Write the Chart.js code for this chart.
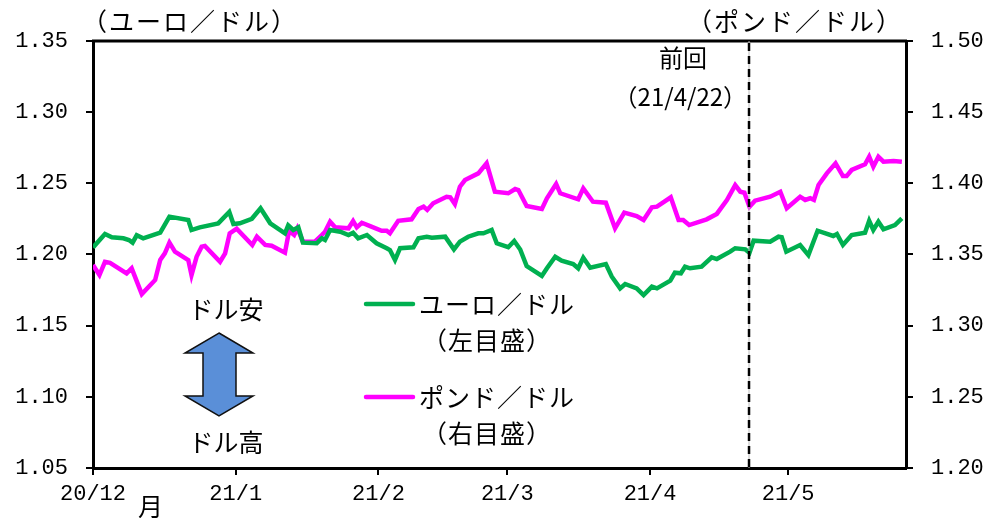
<!DOCTYPE html>
<html>
<head>
<meta charset="utf-8">
<script src="https://cdn.jsdelivr.net/npm/chart.js@4.4.1/dist/chart.umd.min.js"></script>
<style>
  html, body { margin: 0; padding: 0; background: #fff; }
</style>
</head>
<body>
<canvas id="fx" width="991" height="518"></canvas>
<script>
// x = days since 2020-12-01
const monthStarts = [0, 31, 62, 90, 121, 151];
const monthLabels = ["20/12", "21/1", "21/2", "21/3", "21/4", "21/5"];
const lastMeetingDay = 142.5; // 21/4/22

// euro / dollar (left scale)
const eurDays = [0, 2.6, 4.1, 6.6, 7.8, 8.6, 9.5, 10.9, 14.6, 16.6, 20.7, 21.4, 23.2, 27.2, 29.6, 30.5, 31.9, 34.5, 36.4, 38.5,
  41.7, 42.4, 43.5, 44.6, 45.6, 48.6, 49.7, 50.4, 51.5, 53.7, 55.5, 56.5, 57.6, 59.5, 61.6, 63.8, 64.5, 65.6, 66.7, 69.6,
  70.7, 72.5, 73.6, 76.5, 78.4, 79.7, 81.5, 83.7, 84.8, 86.6, 87.7, 90.2, 91.5, 92.8, 94.2, 97.5, 98.6, 100.4, 101.8, 104.3,
  105.4, 106.5, 108.0, 111.4, 112.7, 114.5, 115.6, 118.1, 119.6, 121.4, 122.5, 125.4, 126.4, 127.7, 128.6, 129.7, 132.2, 134.4, 135.5, 138.4,
  139.5, 141.7, 142.6, 143.5, 147.1, 148.9, 149.6, 150.6, 153.6, 155.4, 157.4, 160.8, 161.6, 162.9, 164.8, 167.7, 168.6, 169.5, 170.6, 171.7,
  174.2, 175.7];
const eurRate = [1.2050, 1.2144, 1.2121, 1.2114, 1.2102, 1.2083, 1.2135, 1.2114, 1.2153, 1.2266, 1.2242, 1.2172, 1.2191, 1.2219, 1.2299, 1.2214, 1.2219, 1.2251, 1.2325, 1.2219,
  1.2149, 1.2205, 1.2172, 1.2191, 1.2083, 1.2079, 1.2114, 1.2102, 1.2172, 1.2160, 1.2137, 1.2153, 1.2114, 1.2137, 1.2079, 1.2044, 1.2031, 1.1961, 1.2044, 1.2051,
  1.2114, 1.2125, 1.2118, 1.2125, 1.2036, 1.2090, 1.2125, 1.2149, 1.2149, 1.2172, 1.2079, 1.2051, 1.2095, 1.2035, 1.1919, 1.1849, 1.1903, 1.1984, 1.1956, 1.1933,
  1.1903, 1.1977, 1.1907, 1.1933, 1.1844, 1.1762, 1.1793, 1.1762, 1.1715, 1.1774, 1.1762, 1.1816, 1.1872, 1.1868, 1.1914, 1.1903, 1.1914, 1.1980, 1.1968, 1.2020,
  1.2044, 1.2036, 1.2013, 1.2097, 1.2090, 1.2125, 1.2121, 1.2020, 1.2067, 1.1996, 1.2167, 1.2130, 1.2144, 1.2067, 1.2137, 1.2153, 1.2237, 1.2172, 1.2230, 1.2177,
  1.2207, 1.2254];

// pound / dollar (right scale)
const gbpDays = [0, 1.4, 2.6, 3.7, 7.3, 8.4, 10.6, 13.5, 14.6, 15.6, 16.6, 17.8, 20.7, 21.4, 22.5, 23.6, 24.3, 27.6, 28.7, 29.7,
  31.2, 34.6, 35.6, 37.4, 38.8, 41.7, 42.6, 43.7, 44.4, 45.6, 48.2, 49.7, 50.4, 51.5, 52.6, 55.5, 56.5, 57.3, 58.4, 60.2,
  62.7, 63.8, 64.5, 66.3, 69.2, 70.7, 71.8, 72.6, 73.9, 76.8, 77.6, 78.6, 79.7, 80.8, 83.7, 85.5, 87.3, 90.2, 91.7, 92.4,
  94.2, 97.5, 98.6, 100.6, 101.5, 105.4, 106.5, 108.6, 111.4, 113.4, 115.4, 118.1, 119.6, 121.4, 122.5, 125.5, 127.2, 128.2, 129.5, 133.3,
  135.5, 137.7, 139.5, 140.6, 141.5, 142.6, 143.8, 147.1, 149.3, 150.7, 153.6, 154.7, 155.8, 156.6, 157.6, 159.4, 161.3, 162.9, 163.7, 164.8,
  167.7, 168.6, 169.5, 170.6, 171.7, 173.9, 175.7];
const gbpRate = [1.3426, 1.3356, 1.3449, 1.3442, 1.3368, 1.3403, 1.3222, 1.3321, 1.3461, 1.3508, 1.3583, 1.3520, 1.3461, 1.3356, 1.3484, 1.3555, 1.3560, 1.3449, 1.3508, 1.3649,
  1.3681, 1.3567, 1.3625, 1.3567, 1.3562, 1.3513, 1.3667, 1.3637, 1.3684, 1.3590, 1.3590, 1.3637, 1.3660, 1.3730, 1.3691, 1.3684, 1.3735, 1.3691, 1.3723, 1.3700,
  1.3667, 1.3667, 1.3649, 1.3737, 1.3747, 1.3820, 1.3836, 1.3813, 1.3860, 1.3906, 1.3902, 1.3855, 1.3976, 1.4023, 1.4070, 1.4141, 1.3941, 1.3930, 1.3960, 1.3953,
  1.3841, 1.3820, 1.3895, 1.3995, 1.3930, 1.3888, 1.3965, 1.3871, 1.3864, 1.3684, 1.3794, 1.3770, 1.3742, 1.3832, 1.3836, 1.3902, 1.3742, 1.3742, 1.3707, 1.3747,
  1.3785, 1.3883, 1.3988, 1.3941, 1.3934, 1.3836, 1.3878, 1.3906, 1.3941, 1.3825, 1.3906, 1.3883, 1.3895, 1.3883, 1.3988, 1.4070, 1.4141, 1.4051, 1.4051, 1.4094,
  1.4134, 1.4187, 1.4117, 1.4187, 1.4152, 1.4157, 1.4152];

const toPoints = (days, vals) => days.map((d, i) => ({ x: d, y: vals[i] }));

const JP = '"Noto Sans CJK JP", sans-serif';
const NUM = '"Liberation Mono", monospace';

//========================================================================
const notes = {
  id: "notes",
  afterDraw: chart => {
    const ctx = chart.ctx;
    const a = chart.chartArea;
    const xs = chart.scales.x;
    ctx.save();

    // frame top
    ctx.strokeStyle = "#000";
    ctx.lineWidth = 3;
    ctx.beginPath();
    ctx.moveTo(a.left - 1, a.top);
    ctx.lineTo(a.right + 1, a.top);
    ctx.stroke();

    // last meeting line
    const mx = xs.getPixelForValue(lastMeetingDay);
    ctx.strokeStyle = "#bbb";
    ctx.lineWidth = 1;
    ctx.beginPath();
    ctx.moveTo(mx, a.top);
    ctx.lineTo(mx, a.bottom);
    ctx.stroke();
    ctx.strokeStyle = "#000";
    ctx.lineWidth = 2.5;
    ctx.setLineDash([8, 5]);
    ctx.beginPath();
    ctx.moveTo(mx, a.top + 2);
    ctx.lineTo(mx, a.bottom);
    ctx.stroke();
    ctx.setLineDash([]);

    ctx.fillStyle = "#000";
    ctx.font = "24px " + JP;
    ctx.textBaseline = "middle";
    ctx.textAlign = "center";
    ctx.fillText("前回", mx - 66, 58);
    ctx.textAlign = "right";
    ctx.fillText("（21/4/22）", mx - 2, 97);

    // axis titles
    ctx.font = "25px " + JP;
    ctx.letterSpacing = "2px";
    ctx.textAlign = "left";
    ctx.fillText("（ユーロ／ドル）", 82, 21);
    ctx.textAlign = "right";
    ctx.fillText("（ポンド／ドル）", 903, 21);
    ctx.letterSpacing = "0px";

    // 月
    ctx.textAlign = "left";
    ctx.fillText("月", 138, 506);

    // legend
    const legend = [
      { color: "#00b050", y: 304, name: "ユーロ／ドル", note: "（左目盛）" },
      { color: "#ff00ff", y: 397, name: "ポンド／ドル", note: "（右目盛）" }
    ];
    legend.forEach(l => {
      ctx.strokeStyle = l.color;
      ctx.lineWidth = 4.5;
      ctx.lineCap = "round";
      ctx.beginPath();
      ctx.moveTo(366, l.y);
      ctx.lineTo(413, l.y);
      ctx.stroke();
      ctx.textAlign = "left";
      ctx.letterSpacing = "1px";
      ctx.fillText(l.name, 419, l.y);
      ctx.fillText(l.note, 422, l.y + 36);
      ctx.letterSpacing = "0px";
    });

    // dollar weak / strong arrow
    ctx.textAlign = "center";
    ctx.fillText("ドル安", 226, 309);
    ctx.fillText("ドル高", 226, 442);
    const cx = 219;
    ctx.beginPath();
    ctx.moveTo(cx, 333);
    ctx.lineTo(cx + 34, 353);
    ctx.lineTo(cx + 17, 353);
    ctx.lineTo(cx + 17, 396);
    ctx.lineTo(cx + 34, 396);
    ctx.lineTo(cx, 416);
    ctx.lineTo(cx - 34, 396);
    ctx.lineTo(cx - 16, 396);
    ctx.lineTo(cx - 16, 353);
    ctx.lineTo(cx - 34, 353);
    ctx.closePath();
    ctx.fillStyle = "#5a8fd8";
    ctx.fill();
    ctx.strokeStyle = "#111";
    ctx.lineWidth = 1.5;
    ctx.lineJoin = "miter";
    ctx.stroke();

    ctx.restore();
  }
};

const axisGrid = { drawOnChartArea: false, drawTicks: true, tickLength: 7, color: "#000", lineWidth: 2 };
const axisBorder = { color: "#000", width: 3 };
const numFont = { family: NUM, size: 22 };

new Chart(document.getElementById("fx"), {
  type: "line",
  data: {
    datasets: [
      { label: "ユーロ／ドル", data: toPoints(eurDays, eurRate), yAxisID: "yL",
        borderColor: "#00b050", borderWidth: 4.5, pointRadius: 0, tension: 0 },
      { label: "ポンド／ドル", data: toPoints(gbpDays, gbpRate), yAxisID: "yR",
        borderColor: "#ff00ff", borderWidth: 4.5, pointRadius: 0, tension: 0 }
    ]
  },
  options: {
    responsive: false,
    animation: false,
    layout: { padding: { top: 41, left: 0, right: 0, bottom: 0 } },
    plugins: { legend: { display: false }, tooltip: { enabled: false } },
    scales: {
      x: {
        type: "linear",
        min: 0,
        max: 176.6,
        grid: axisGrid,
        border: axisBorder,
        afterBuildTicks: s => { s.ticks = monthStarts.map(v => ({ value: v })); },
        afterFit: s => { s.height = 50; },
        ticks: {
          autoSkip: false,
          maxRotation: 0,
          padding: 6,
          color: "#000",
          font: numFont,
          callback: v => monthLabels[monthStarts.indexOf(v)]
        }
      },
      yL: {
        position: "left",
        min: 1.05,
        max: 1.35,
        grid: axisGrid,
        border: axisBorder,
        afterFit: s => { s.width = 93; },
        ticks: { stepSize: 0.05, padding: 18, color: "#000", font: numFont, callback: v => v.toFixed(2) }
      },
      yR: {
        position: "right",
        min: 1.20,
        max: 1.50,
        grid: axisGrid,
        border: axisBorder,
        afterFit: s => { s.width = 85; },
        ticks: { stepSize: 0.05, padding: 18, color: "#000", font: numFont, callback: v => v.toFixed(2) }
      }
    }
  },
  plugins: [notes]
});
</script>
</body>
</html>
